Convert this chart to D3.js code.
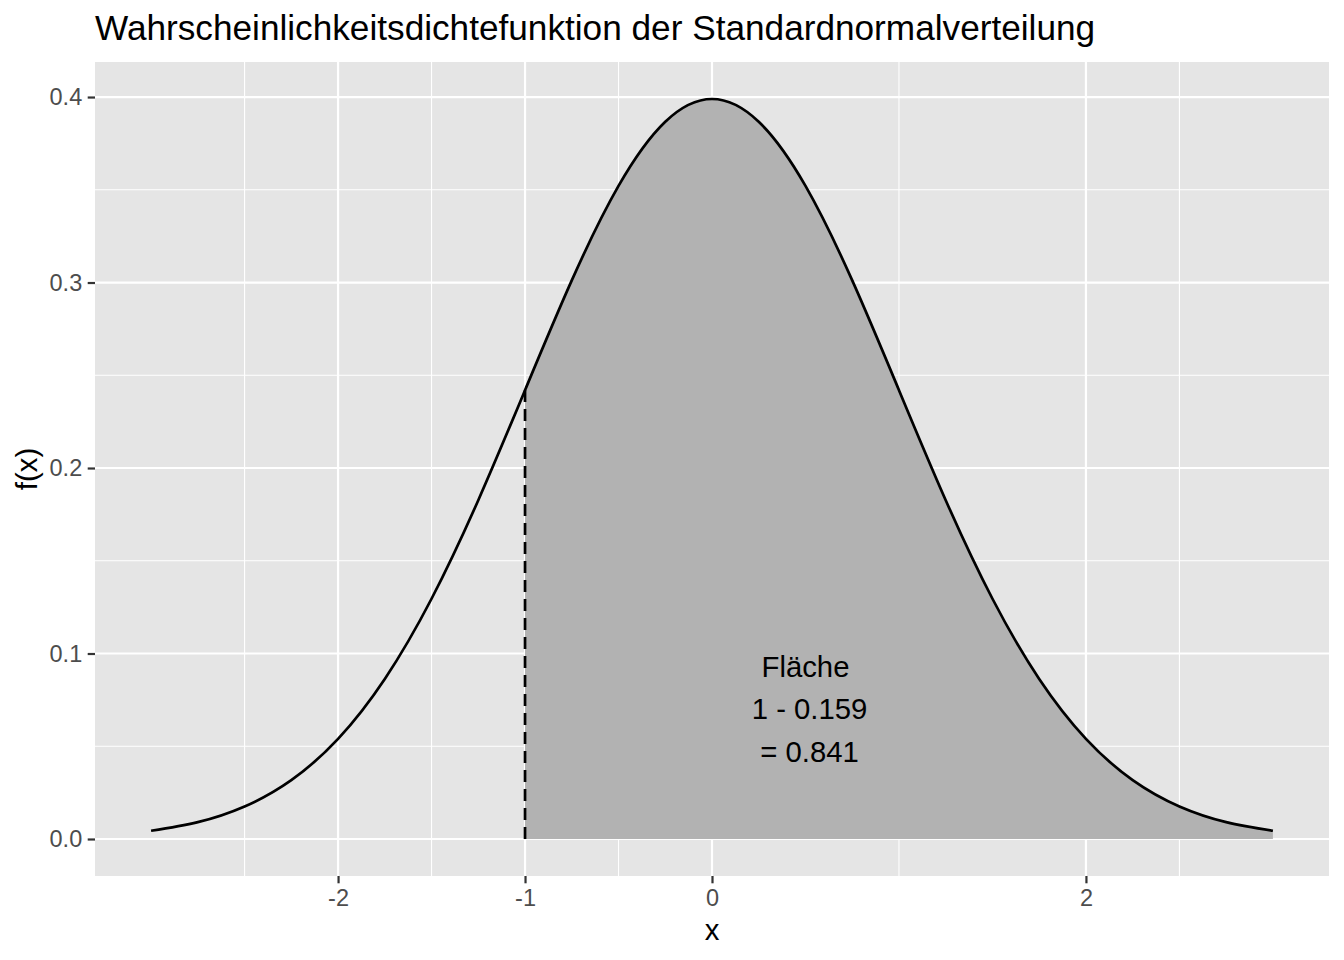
<!DOCTYPE html>
<html>
<head>
<meta charset="utf-8">
<script src="https://cdn.jsdelivr.net/npm/d3@7"></script>
<style>
  html, body { margin: 0; padding: 0; background: #ffffff; }
  svg { display: block; font-family: "Liberation Sans", Arial, Helvetica, sans-serif; }
</style>
</head>
<body>
<svg id="chart" width="1344" height="960"></svg>
<script>
// ---- data ----
const xValues = [-3, -2.75, -2.5, -2.25, -2, -1.75, -1.5, -1.25, -1, -0.75, -0.5, -0.25, 0,
                 0.25, 0.5, 0.75, 1, 1.25, 1.5, 1.75, 2, 2.25, 2.5, 2.75, 3];
const densityValues = [0.00443, 0.00909, 0.01753, 0.03174, 0.05399, 0.08628, 0.12952, 0.18265, 0.24197,
                       0.30114, 0.35207, 0.38667, 0.39894, 0.38667, 0.35207, 0.30114, 0.24197,
                       0.18265, 0.12952, 0.08628, 0.05399, 0.03174, 0.01753, 0.00909, 0.00443];
const shadeFrom = -1;
const xTicks = [-2, -1, 0, 2];
const xTickLabels = ["-2", "-1", "0", "2"];
const xMinorTicks = [-2.5, -1.5, -0.5, 1, 2.5];
const yTicks = [0, 0.1, 0.2, 0.3, 0.4];
const yTickLabels = ["0.0", "0.1", "0.2", "0.3", "0.4"];
const yMinorTicks = [0.05, 0.15, 0.25, 0.35];
const annotationX = 0.5;
const annotationY = 0.07;
const annotationLines = ["Fläche", " 1 - 0.159", " = 0.841"];
const titleText = "Wahrscheinlichkeitsdichtefunktion der Standardnormalverteilung";
const xLabel = "x";
const yLabel = "f(x)";

// ---- layout ----
const panel = { left: 95, right: 1329, top: 62, bottom: 876 };
const svg = d3.select("#chart");

const points = xValues.map((x, i) => ({ x, y: densityValues[i] }));
const xMin = d3.min(xValues), xMax = d3.max(xValues);
const xPad = (xMax - xMin) * 0.05;
const yMin = 0, yMax = d3.max(densityValues);
const yPad = (yMax - yMin) * 0.05;

const x = d3.scaleLinear().domain([xMin - xPad, xMax + xPad]).range([panel.left, panel.right]);
const y = d3.scaleLinear().domain([yMin - yPad, yMax + yPad]).range([panel.bottom, panel.top]);

// panel background
svg.append("rect")
  .attr("x", panel.left).attr("y", panel.top)
  .attr("width", panel.right - panel.left).attr("height", panel.bottom - panel.top)
  .attr("fill", "#E5E5E5");

const grid = svg.append("g");
// minor grid
grid.selectAll("line.xminor").data(xMinorTicks).enter().append("line")
  .attr("x1", d => x(d)).attr("x2", d => x(d))
  .attr("y1", panel.top).attr("y2", panel.bottom)
  .attr("stroke", "#ffffff").attr("stroke-width", 1.1);
grid.selectAll("line.yminor").data(yMinorTicks).enter().append("line")
  .attr("y1", d => y(d)).attr("y2", d => y(d))
  .attr("x1", panel.left).attr("x2", panel.right)
  .attr("stroke", "#ffffff").attr("stroke-width", 1.1);
// major grid
grid.selectAll("line.xmajor").data(xTicks).enter().append("line")
  .attr("x1", d => x(d)).attr("x2", d => x(d))
  .attr("y1", panel.top).attr("y2", panel.bottom)
  .attr("stroke", "#ffffff").attr("stroke-width", 2.2);
grid.selectAll("line.ymajor").data(yTicks).enter().append("line")
  .attr("y1", d => y(d)).attr("y2", d => y(d))
  .attr("x1", panel.left).attr("x2", panel.right)
  .attr("stroke", "#ffffff").attr("stroke-width", 2.2);

// shaded area
const shadePts = points.filter(p => p.x >= shadeFrom);
const area = d3.area()
  .x(d => x(d.x)).y0(y(0)).y1(d => y(d.y))
  .curve(d3.curveNatural);
svg.append("path").datum(shadePts)
  .attr("d", area)
  .attr("fill", "#B2B2B2");

// density curve
const line = d3.line().x(d => x(d.x)).y(d => y(d.y)).curve(d3.curveNatural);
svg.append("path").datum(points)
  .attr("d", line)
  .attr("fill", "none")
  .attr("stroke", "#000000")
  .attr("stroke-width", 2.7);

// dashed vertical line
const shadeIdx = xValues.indexOf(shadeFrom);
svg.append("line")
  .attr("x1", x(shadeFrom)).attr("x2", x(shadeFrom))
  .attr("y1", y(0)).attr("y2", y(densityValues[shadeIdx]))
  .attr("stroke", "#000000").attr("stroke-width", 2.7)
  .attr("stroke-dasharray", "12 7");

// annotation
const ann = svg.append("text")
  .attr("text-anchor", "middle")
  .attr("font-size", 29.3)
  .attr("fill", "#000000")
  .style("white-space", "pre");
annotationLines.forEach((t, i) => {
  ann.append("tspan")
    .attr("x", x(annotationX))
    .attr("y", y(annotationY) + (i - 1) * 42.5 + 10)
    .text(t);
});

// axes
const xAxis = d3.axisBottom(x).tickValues(xTicks).tickFormat((d, i) => xTickLabels[i]).tickSize(7.3).tickPadding(6.5);
const gx = svg.append("g").attr("transform", `translate(0,${panel.bottom})`).call(xAxis);
gx.select(".domain").remove();
gx.selectAll(".tick line").attr("stroke", "#333333").attr("stroke-width", 2.2);
gx.selectAll(".tick text").attr("fill", "#4D4D4D").attr("font-size", 23.5).attr("font-family", null);

const yAxis = d3.axisLeft(y).tickValues(yTicks).tickFormat((d, i) => yTickLabels[i]).tickSize(7.3).tickPadding(5.5);
const gy = svg.append("g").attr("transform", `translate(${panel.left},0)`).call(yAxis);
gy.select(".domain").remove();
gy.selectAll(".tick line").attr("stroke", "#333333").attr("stroke-width", 2.2);
gy.selectAll(".tick text").attr("fill", "#4D4D4D").attr("font-size", 23.5).attr("font-family", null);

// axis titles
svg.append("text")
  .attr("x", (panel.left + panel.right) / 2).attr("y", 940)
  .attr("text-anchor", "middle").attr("font-size", 29.3).attr("fill", "#000")
  .text(xLabel);
svg.append("text")
  .attr("transform", `translate(37,${(panel.top + panel.bottom) / 2}) rotate(-90)`)
  .attr("text-anchor", "middle").attr("font-size", 29.3).attr("fill", "#000")
  .text(yLabel);

// title
svg.append("text")
  .attr("x", panel.left).attr("y", 39.5)
  .attr("font-size", 35.2).attr("fill", "#000")
  .text(titleText);
</script>
</body>
</html>
